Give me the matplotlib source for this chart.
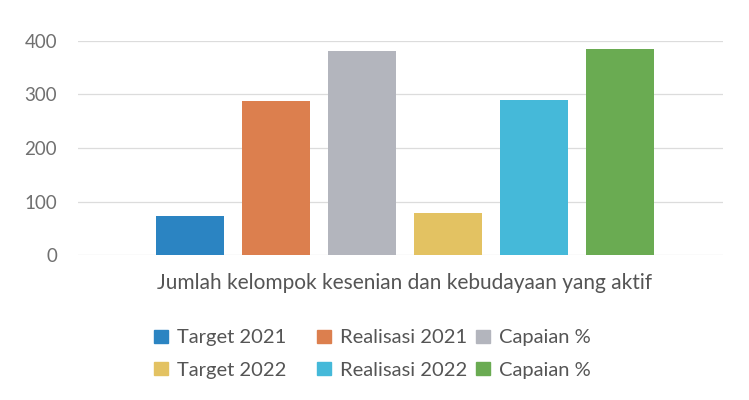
import matplotlib.pyplot as plt
from matplotlib.patches import Patch

labels = ['Target 2021', 'Realisasi 2021', 'Capaian %',
          'Target 2022', 'Realisasi 2022', 'Capaian %']
values = [73, 287, 381, 79, 289, 384]
colors = ['#2b84c2', '#dc7f4e', '#b3b5bd', '#e3c262', '#45b9d9', '#6aab52']
yticks = [0, 100, 200, 300, 400]
category = 'Jumlah kelompok kesenian dan kebudayaan yang aktif'

plt.rcParams['font.family'] = ['Lato', 'DejaVu Sans']

fig = plt.figure(figsize=(7.49, 4), dpi=100)
ax = fig.add_axes([0.104, 0.362, 0.861, 0.536])

x = list(range(len(values)))
ax.bar(x, values, width=0.79, color=colors, zorder=2)

ax.set_ylim(0, 400)
ax.set_xlim(-1.3, 6.2)
ax.set_yticks(yticks)
ax.set_xticks([])
ax.grid(axis='y', color='#dcdcdc', linewidth=0.9, zorder=0)
for s in ax.spines.values():
    s.set_visible(False)
ax.tick_params(axis='y', length=0, pad=15, labelsize=13.5, labelcolor='#707070')

fig.text(0.54, 0.2925, category, ha='center', va='center', fontsize=15, color='#555555')

# legend: one small legend per column (2021 row on top, 2022 below)
handles = [Patch(color=c) for c in colors]
col_x = [0.2056, 0.4232, 0.6355]
for j, cx in enumerate(col_x):
    leg = fig.legend([handles[j], handles[j + 3]], [labels[j], labels[j + 3]],
                     loc='center left', bbox_to_anchor=(cx, 0.115),
                     frameon=False, fontsize=14.5, labelcolor='#555555',
                     handlelength=0.7, handleheight=0.6, handletextpad=0.45,
                     labelspacing=0.77, borderpad=0, borderaxespad=0)

fig.savefig('out.png', dpi=100)
